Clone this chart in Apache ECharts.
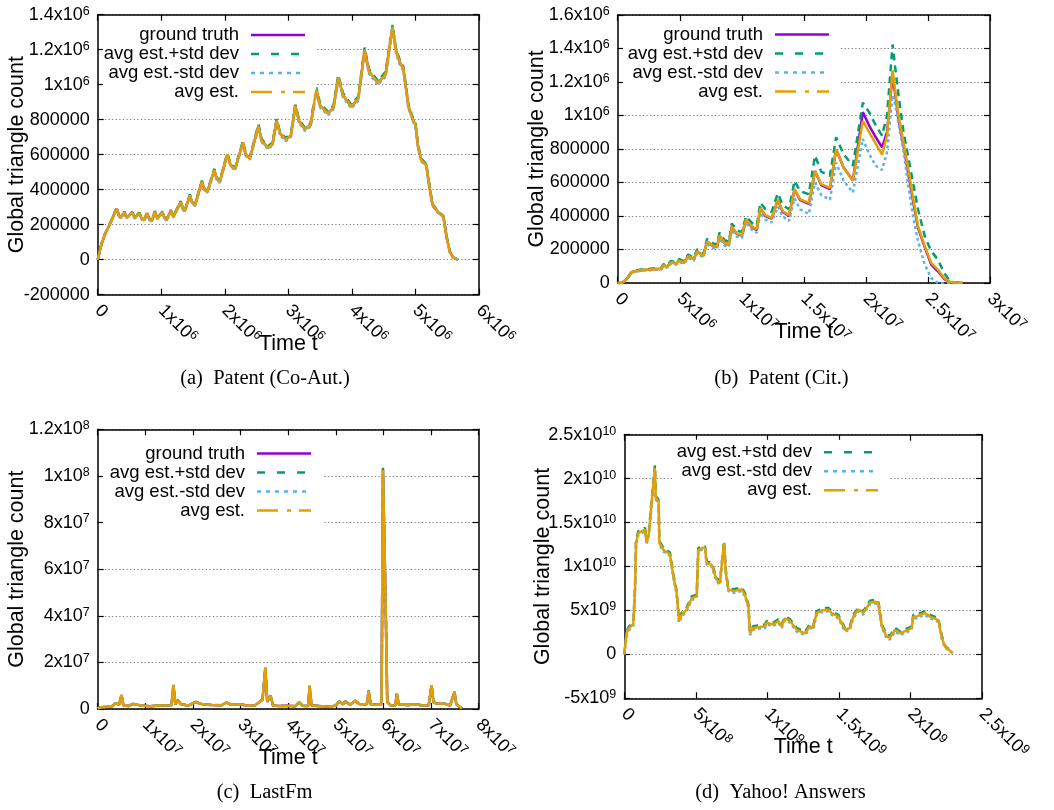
<!DOCTYPE html>
<html>
<head>
<meta charset="utf-8">
<script src="https://cdn.jsdelivr.net/npm/echarts@6/dist/echarts.min.js"></script>
<style>
html, body { margin: 0; padding: 0; background: #fff; }
#chart { width: 1054px; height: 810px; }
</style>
</head>
<body>
<div id="chart"></div>
<script>
// legend / series names
const seriesNames = ['ground truth', 'avg est.+std dev', 'avg est.-std dev', 'avg est.'];

// (a) Patent (Co-Aut.)
const coautTime = [0, 0.06e6, 0.12e6, 0.2e6, 0.27e6, 0.3e6, 0.33e6, 0.36e6, 0.42e6, 0.45e6, 0.48e6, 0.545e6, 0.58e6, 0.61e6, 0.655e6, 0.69e6, 0.73e6, 0.78e6, 0.81e6, 0.85e6, 0.9e6, 0.94e6, 0.97e6, 1.02e6, 1.05e6, 1.085e6, 1.15e6, 1.19e6, 1.215e6, 1.305e6, 1.34e6, 1.37e6, 1.45e6, 1.49e6, 1.53e6, 1.64e6, 1.68e6, 1.725e6, 1.835e6, 1.87e6, 1.92e6, 2.04e6, 2.09e6, 2.16e6, 2.285e6, 2.33e6, 2.395e6, 2.53e6, 2.58e6, 2.68e6, 2.75e6, 2.815e6, 2.87e6, 2.96e6, 3.04e6, 3.11e6, 3.17e6, 3.26e6, 3.35e6, 3.44e6, 3.5e6, 3.625e6, 3.71e6, 3.785e6, 3.86e6, 3.99e6, 4.1e6, 4.2e6, 4.27e6, 4.41e6, 4.53e6, 4.64e6, 4.69e6, 4.75e6, 4.81e6, 4.89e6, 4.96e6, 5e6, 5.04e6, 5.09e6, 5.17e6, 5.22e6, 5.27e6, 5.35e6, 5.44e6, 5.49e6, 5.54e6, 5.59e6, 5.67e6];
const coautTruth = [0, 90e3, 150e3, 210e3, 270e3, 293e3, 255e3, 240e3, 272e3, 240e3, 232e3, 269e3, 238e3, 230e3, 266e3, 235e3, 226e3, 266e3, 232e3, 220e3, 274e3, 235e3, 225e3, 272e3, 238e3, 228e3, 280e3, 245e3, 240e3, 330e3, 290e3, 278e3, 368e3, 325e3, 310e3, 446e3, 400e3, 388e3, 512e3, 465e3, 445e3, 602e3, 540e3, 518e3, 669e3, 600e3, 580e3, 764e3, 680e3, 640e3, 660e3, 794e3, 720e3, 686e3, 710e3, 878e3, 790e3, 745e3, 770e3, 973e3, 880e3, 836e3, 870e3, 1042e3, 940e3, 875e3, 920e3, 1198e3, 1075e3, 1010e3, 1060e3, 1328e3, 1200e3, 1130e3, 1090e3, 875e3, 800e3, 770e3, 650e3, 570e3, 541e3, 417e3, 312e3, 274e3, 246e3, 131e3, 46e3, 13e3, 0];
const coautPlus = [0, 92e3, 153e3, 213e3, 274e3, 298e3, 259e3, 244e3, 276e3, 244e3, 236e3, 273e3, 242e3, 234e3, 270e3, 239e3, 230e3, 270e3, 236e3, 224e3, 278e3, 239e3, 229e3, 276e3, 242e3, 232e3, 284e3, 249e3, 244e3, 335e3, 294e3, 282e3, 373e3, 330e3, 314e3, 452e3, 405e3, 393e3, 519e3, 471e3, 451e3, 610e3, 547e3, 525e3, 678e3, 608e3, 588e3, 774e3, 689e3, 648e3, 668e3, 804e3, 729e3, 695e3, 719e3, 889e3, 800e3, 754e3, 780e3, 985e3, 891e3, 846e3, 881e3, 1055e3, 952e3, 886e3, 932e3, 1212e3, 1088e3, 1022e3, 1073e3, 1342e3, 1214e3, 1144e3, 1102e3, 886e3, 810e3, 780e3, 659e3, 578e3, 548e3, 423e3, 317e3, 278e3, 250e3, 133e3, 47e3, 13e3, 0];
const coautMinus = [0, 88e3, 147e3, 207e3, 266e3, 288e3, 251e3, 236e3, 268e3, 236e3, 228e3, 265e3, 234e3, 226e3, 262e3, 231e3, 222e3, 262e3, 228e3, 216e3, 270e3, 231e3, 221e3, 268e3, 234e3, 224e3, 276e3, 241e3, 236e3, 325e3, 286e3, 274e3, 363e3, 320e3, 306e3, 440e3, 395e3, 383e3, 505e3, 459e3, 439e3, 594e3, 533e3, 511e3, 660e3, 592e3, 572e3, 754e3, 671e3, 632e3, 652e3, 784e3, 711e3, 677e3, 701e3, 867e3, 780e3, 736e3, 760e3, 961e3, 869e3, 826e3, 859e3, 1029e3, 928e3, 864e3, 908e3, 1184e3, 1062e3, 998e3, 1047e3, 1314e3, 1186e3, 1116e3, 1078e3, 864e3, 790e3, 760e3, 641e3, 562e3, 534e3, 411e3, 307e3, 270e3, 242e3, 129e3, 45e3, 13e3, 0];
const coautAvg = [0, 90e3, 150e3, 210e3, 270e3, 293e3, 255e3, 240e3, 272e3, 240e3, 232e3, 269e3, 238e3, 230e3, 266e3, 235e3, 226e3, 266e3, 232e3, 220e3, 274e3, 235e3, 225e3, 272e3, 238e3, 228e3, 280e3, 245e3, 240e3, 330e3, 290e3, 278e3, 368e3, 325e3, 310e3, 446e3, 400e3, 388e3, 512e3, 465e3, 445e3, 602e3, 540e3, 518e3, 669e3, 600e3, 580e3, 764e3, 680e3, 640e3, 660e3, 794e3, 720e3, 686e3, 710e3, 878e3, 790e3, 745e3, 770e3, 973e3, 880e3, 836e3, 870e3, 1042e3, 940e3, 875e3, 920e3, 1198e3, 1075e3, 1010e3, 1060e3, 1328e3, 1200e3, 1130e3, 1090e3, 875e3, 800e3, 770e3, 650e3, 570e3, 541e3, 417e3, 312e3, 274e3, 246e3, 131e3, 46e3, 13e3, 0];
const coautXLabels = ['0', '1x10^6', '2x10^6', '3x10^6', '4x10^6', '5x10^6', '6x10^6'];
const coautYLabels = ['-200000', '0', '200000', '400000', '600000', '800000', '1x10^6', '1.2x10^6', '1.4x10^6'];

// (b) Patent (Cit.)
const citTime = [0, 0.4e6, 0.75e6, 1.15e6, 1.5e6, 2.05e6, 2.6e6, 3.1e6, 3.5e6, 3.68e6, 4e6, 4.3e6, 4.7e6, 4.95e6, 5.34e6, 5.68e6, 6.13e6, 6.4e6, 6.9e6, 7.2e6, 7.7e6, 8e6, 8.2e6, 8.6e6, 8.95e6, 9.2e6, 9.6e6, 10e6, 10.35e6, 10.8e6, 11.2e6, 11.5e6, 11.9e6, 12.4e6, 12.9e6, 13.3e6, 13.8e6, 14.25e6, 14.7e6, 15.4e6, 15.9e6, 16.4e6, 17.1e6, 17.6e6, 18.2e6, 18.95e6, 19.75e6, 20.26e6, 20.8e6, 21.3e6, 21.7e6, 22.15e6, 22.37e6, 22.63e6, 23.03e6, 23.42e6, 23.82e6, 24.2e6, 24.74e6, 25.26e6, 25.8e6, 26.3e6, 26.84e6, 27.8e6];
const citTruth = [0, 2e3, 26e3, 66e3, 72e3, 78e3, 80e3, 84e3, 84e3, 106e3, 98e3, 124e3, 116e3, 134e3, 122e3, 160e3, 142e3, 190e3, 162e3, 248e3, 220e3, 214e3, 284e3, 238e3, 228e3, 336e3, 292e3, 283e3, 380e3, 334e3, 316e3, 448e3, 400e3, 384e3, 495e3, 426e3, 400e3, 560e3, 495e3, 472e3, 668e3, 585e3, 560e3, 798e3, 690e3, 612e3, 1020e3, 940e3, 870e3, 810e3, 900e3, 1240e3, 1120e3, 980e3, 820e3, 650e3, 480e3, 330e3, 215e3, 110e3, 70e3, 25e3, 3e3, 0];
const citPlus = [0, 2e3, 28e3, 70e3, 76e3, 82e3, 85e3, 89e3, 89e3, 112e3, 104e3, 132e3, 123e3, 142e3, 130e3, 170e3, 151e3, 202e3, 172e3, 264e3, 236e3, 230e3, 302e3, 256e3, 246e3, 356e3, 314e3, 304e3, 398e3, 360e3, 342e3, 480e3, 440e3, 425e3, 535e3, 465e3, 440e3, 610e3, 548e3, 530e3, 760e3, 665e3, 640e3, 870e3, 770e3, 700e3, 1076e3, 1020e3, 940e3, 880e3, 1000e3, 1424e3, 1280e3, 1120e3, 900e3, 750e3, 590e3, 440e3, 280e3, 190e3, 140e3, 60e3, 6e3, 0];
const citMinus = [0, 2e3, 24e3, 62e3, 68e3, 74e3, 76e3, 79e3, 79e3, 100e3, 92e3, 116e3, 109e3, 126e3, 114e3, 150e3, 133e3, 178e3, 152e3, 232e3, 208e3, 202e3, 266e3, 224e3, 214e3, 316e3, 276e3, 268e3, 362e3, 318e3, 300e3, 420e3, 378e3, 362e3, 455e3, 398e3, 370e3, 505e3, 440e3, 412e3, 600e3, 525e3, 498e3, 718e3, 610e3, 540e3, 860e3, 770e3, 700e3, 675e3, 780e3, 1120e3, 1060e3, 950e3, 790e3, 580e3, 390e3, 250e3, 110e3, 30e3, 0, 0, 0, 0];
const citAvg = [0, 2e3, 26e3, 66e3, 72e3, 78e3, 80e3, 84e3, 84e3, 106e3, 98e3, 124e3, 116e3, 134e3, 122e3, 160e3, 142e3, 190e3, 162e3, 248e3, 222e3, 216e3, 284e3, 240e3, 230e3, 336e3, 295e3, 286e3, 380e3, 338e3, 320e3, 448e3, 405e3, 388e3, 495e3, 430e3, 405e3, 560e3, 500e3, 478e3, 668e3, 590e3, 568e3, 798e3, 690e3, 610e3, 968e3, 900e3, 830e3, 766e3, 880e3, 1270e3, 1140e3, 1000e3, 840e3, 680e3, 500e3, 340e3, 220e3, 120e3, 80e3, 30e3, 4e3, 0];
const citXLabels = ['0', '5x10^6', '1x10^7', '1.5x10^7', '2x10^7', '2.5x10^7', '3x10^7'];
const citYLabels = ['0', '200000', '400000', '600000', '800000', '1x10^6', '1.2x10^6', '1.4x10^6', '1.6x10^6'];

// (c) LastFm
const lastfmTime = [0, 1e6, 2e6, 3e6, 3.8e6, 4.5e6, 5e6, 5.4e6, 6.5e6, 7.5e6, 9e6, 11e6, 13e6, 15.5e6, 15.9e6, 16.3e6, 16.8e6, 17.5e6, 19e6, 20.5e6, 22e6, 24e6, 26e6, 27e6, 28e6, 30e6, 31e6, 33e6, 34.6e6, 35.2e6, 35.6e6, 36.3e6, 36.8e6, 38e6, 40e6, 41.5e6, 42.3e6, 43e6, 44.2e6, 44.5e6, 44.9e6, 47e6, 49e6, 50e6, 50.7e6, 51.5e6, 52e6, 53e6, 54e6, 55e6, 56.5e6, 56.9e6, 57.3e6, 59e6, 59.6e6, 59.9e6, 60.2e6, 60.5e6, 60.8e6, 61.5e6, 62.5e6, 62.8e6, 63.2e6, 65e6, 67e6, 68e6, 69.5e6, 70.1e6, 70.5e6, 71e6, 73e6, 74e6, 74.9e6, 75.3e6, 76e6, 76.5e6];
const lastfmTruth = [0.3e6, 0.8e6, 1e6, 1.2e6, 2.5e6, 1.8e6, 6e6, 1.5e6, 1.3e6, 2.2e6, 1.5e6, 1.2e6, 1.5e6, 1.6e6, 10.2e6, 2e6, 3.8e6, 2e6, 1.5e6, 3e6, 2e6, 1.7e6, 1.6e6, 2.8e6, 1.8e6, 2e6, 1.6e6, 1.5e6, 4e6, 17.7e6, 3e6, 5.8e6, 1.5e6, 1.3e6, 1.4e6, 1.2e6, 3e6, 1.4e6, 1.3e6, 9.8e6, 1.5e6, 1.2e6, 1.1e6, 1.5e6, 3.2e6, 2e6, 3.2e6, 1.8e6, 3.5e6, 2e6, 2e6, 7.8e6, 2e6, 1.8e6, 2.2e6, 102.5e6, 102.5e6, 40e6, 3e6, 1.6e6, 1.5e6, 6.5e6, 2e6, 1.7e6, 1.9e6, 1.6e6, 1.5e6, 10.2e6, 3e6, 2.4e6, 2.2e6, 1.5e6, 7.4e6, 2e6, 1e6, 0.3e6];
const lastfmPlus = [0.3e6, 0.8e6, 1e6, 1.2e6, 2.6e6, 1.8e6, 6.1e6, 1.5e6, 1.3e6, 2.2e6, 1.5e6, 1.2e6, 1.5e6, 1.6e6, 10.4e6, 2e6, 3.9e6, 2e6, 1.5e6, 3.1e6, 2e6, 1.7e6, 1.6e6, 2.9e6, 1.8e6, 2e6, 1.6e6, 1.5e6, 4.1e6, 18e6, 3e6, 5.9e6, 1.5e6, 1.3e6, 1.4e6, 1.2e6, 3.1e6, 1.4e6, 1.3e6, 10e6, 1.5e6, 1.2e6, 1.1e6, 1.5e6, 3.3e6, 2e6, 3.3e6, 1.8e6, 3.6e6, 2e6, 2e6, 8e6, 2e6, 1.8e6, 2.2e6, 103.5e6, 103.5e6, 41e6, 3e6, 1.6e6, 1.5e6, 6.6e6, 2e6, 1.7e6, 1.9e6, 1.6e6, 1.5e6, 10.4e6, 3e6, 2.4e6, 2.2e6, 1.5e6, 7.5e6, 2e6, 1e6, 0.3e6];
const lastfmMinus = [0.3e6, 0.8e6, 1e6, 1.2e6, 2.4e6, 1.8e6, 5.9e6, 1.5e6, 1.3e6, 2.2e6, 1.5e6, 1.2e6, 1.5e6, 1.6e6, 10e6, 2e6, 3.7e6, 2e6, 1.5e6, 2.9e6, 2e6, 1.7e6, 1.6e6, 2.7e6, 1.8e6, 2e6, 1.6e6, 1.5e6, 3.9e6, 17.4e6, 3e6, 5.7e6, 1.5e6, 1.3e6, 1.4e6, 1.2e6, 2.9e6, 1.4e6, 1.3e6, 9.6e6, 1.5e6, 1.2e6, 1.1e6, 1.5e6, 3.1e6, 2e6, 3.1e6, 1.8e6, 3.4e6, 2e6, 2e6, 7.6e6, 2e6, 1.8e6, 2.2e6, 101.5e6, 101.5e6, 39e6, 3e6, 1.6e6, 1.5e6, 6.4e6, 2e6, 1.7e6, 1.9e6, 1.6e6, 1.5e6, 10e6, 3e6, 2.4e6, 2.2e6, 1.5e6, 7.3e6, 2e6, 1e6, 0.3e6];
const lastfmAvg = [0.3e6, 0.8e6, 1e6, 1.2e6, 2.5e6, 1.8e6, 6e6, 1.5e6, 1.3e6, 2.2e6, 1.5e6, 1.2e6, 1.5e6, 1.6e6, 10.2e6, 2e6, 3.8e6, 2e6, 1.5e6, 3e6, 2e6, 1.7e6, 1.6e6, 2.8e6, 1.8e6, 2e6, 1.6e6, 1.5e6, 4e6, 17.7e6, 3e6, 5.8e6, 1.5e6, 1.3e6, 1.4e6, 1.2e6, 3e6, 1.4e6, 1.3e6, 9.8e6, 1.5e6, 1.2e6, 1.1e6, 1.5e6, 3.2e6, 2e6, 3.2e6, 1.8e6, 3.5e6, 2e6, 2e6, 7.8e6, 2e6, 1.8e6, 2.2e6, 102.5e6, 102.5e6, 40e6, 3e6, 1.6e6, 1.5e6, 6.5e6, 2e6, 1.7e6, 1.9e6, 1.6e6, 1.5e6, 10.2e6, 3e6, 2.4e6, 2.2e6, 1.5e6, 7.4e6, 2e6, 1e6, 0.3e6];
const lastfmXLabels = ['0', '1x10^7', '2x10^7', '3x10^7', '4x10^7', '5x10^7', '6x10^7', '7x10^7', '8x10^7'];
const lastfmYLabels = ['0', '2x10^7', '4x10^7', '6x10^7', '8x10^7', '1x10^8', '1.2x10^8'];

// (d) Yahoo! Answers (no ground truth)
const yahooTime = [0, 0.016e9, 0.03e9, 0.063e9, 0.075e9, 0.082e9, 0.098e9, 0.12e9, 0.145e9, 0.156e9, 0.172e9, 0.191e9, 0.214e9, 0.22e9, 0.226e9, 0.24e9, 0.245e9, 0.273e9, 0.319e9, 0.343e9, 0.366e9, 0.382e9, 0.4e9, 0.436e9, 0.471e9, 0.506e9, 0.517e9, 0.54e9, 0.564e9, 0.576e9, 0.61e9, 0.645e9, 0.669e9, 0.68e9, 0.697e9, 0.71e9, 0.727e9, 0.762e9, 0.82e9, 0.843e9, 0.867e9, 0.878e9, 0.9e9, 0.983e9, 0.995e9, 1.04e9, 1.076e9, 1.1e9, 1.123e9, 1.158e9, 1.205e9, 1.263e9, 1.298e9, 1.32e9, 1.344e9, 1.38e9, 1.426e9, 1.45e9, 1.496e9, 1.542e9, 1.577e9, 1.6e9, 1.636e9, 1.67e9, 1.717e9, 1.752e9, 1.775e9, 1.8e9, 1.834e9, 1.857e9, 1.892e9, 1.927e9, 1.985e9, 2.008e9, 2.02e9, 2.043e9, 2.067e9, 2.1e9, 2.137e9, 2.195e9, 2.218e9, 2.24e9, 2.295e9];
const yahooPlus = [0, 2.6e9, 3.1e9, 3.7e9, 7.7e9, 13e9, 14e9, 14.2e9, 14.4e9, 12.9e9, 14e9, 17.6e9, 21.5e9, 18e9, 17.8e9, 17.6e9, 12.9e9, 12.1e9, 11.6e9, 9.1e9, 7.2e9, 4e9, 4.7e9, 5.3e9, 6.6e9, 6.8e9, 12.1e9, 12.3e9, 12.3e9, 10.6e9, 10.4e9, 8.7e9, 8.3e9, 10.2e9, 12.9e9, 9.5e9, 7.6e9, 7.4e9, 7.6e9, 7e9, 5.7e9, 2.6e9, 3.2e9, 3.4e9, 3.8e9, 3.6e9, 4e9, 3.4e9, 4.3e9, 4e9, 3e9, 2.6e9, 3.4e9, 3.2e9, 4.9e9, 5.2e9, 5.3e9, 4.9e9, 4.5e9, 3e9, 3.2e9, 4.5e9, 5.3e9, 4.9e9, 6.1e9, 6.2e9, 6.1e9, 3.4e9, 2.2e9, 2.1e9, 3e9, 2.6e9, 3e9, 3.2e9, 4.5e9, 4.5e9, 4.7e9, 4.9e9, 4.5e9, 4.1e9, 2.2e9, 1e9, 0.2e9];
const yahooMinus = [0, 2.2e9, 2.7e9, 3.3e9, 7.1e9, 12.4e9, 13.6e9, 13.8e9, 14e9, 12.5e9, 13.6e9, 17e9, 20.9e9, 17.6e9, 17.4e9, 17.2e9, 12.5e9, 11.7e9, 11.2e9, 8.7e9, 6.8e9, 3.6e9, 4.3e9, 4.9e9, 6.2e9, 6.4e9, 11.7e9, 11.9e9, 11.9e9, 10.2e9, 10e9, 8.3e9, 7.9e9, 9.8e9, 12.5e9, 9.1e9, 7.2e9, 7e9, 7.2e9, 6.6e9, 5.3e9, 2.2e9, 2.8e9, 3e9, 3.4e9, 3.2e9, 3.6e9, 3e9, 3.9e9, 3.6e9, 2.6e9, 2.2e9, 3e9, 2.8e9, 4.5e9, 4.8e9, 4.9e9, 4.5e9, 4.1e9, 2.6e9, 2.8e9, 4.1e9, 4.9e9, 4.5e9, 5.7e9, 5.8e9, 5.7e9, 3e9, 1.8e9, 1.7e9, 2.6e9, 2.2e9, 2.6e9, 2.8e9, 4.1e9, 4.1e9, 4.3e9, 4.5e9, 4.1e9, 3.7e9, 1.8e9, 0.8e9, 0.1e9];
const yahooAvg = [0, 2.4e9, 2.9e9, 3.5e9, 7.4e9, 12.7e9, 13.8e9, 14e9, 14.2e9, 12.7e9, 13.8e9, 17.3e9, 21.2e9, 17.8e9, 17.6e9, 17.4e9, 12.7e9, 11.9e9, 11.4e9, 8.9e9, 7e9, 3.8e9, 4.5e9, 5.1e9, 6.4e9, 6.6e9, 11.9e9, 12.1e9, 12.1e9, 10.4e9, 10.2e9, 8.5e9, 8.1e9, 10e9, 12.7e9, 9.3e9, 7.4e9, 7.2e9, 7.4e9, 6.8e9, 5.5e9, 2.4e9, 3e9, 3.2e9, 3.6e9, 3.4e9, 3.8e9, 3.2e9, 4.1e9, 3.8e9, 2.8e9, 2.4e9, 3.2e9, 3e9, 4.7e9, 5e9, 5.1e9, 4.7e9, 4.3e9, 2.8e9, 3e9, 4.3e9, 5.1e9, 4.7e9, 5.9e9, 6e9, 5.9e9, 3.2e9, 2e9, 1.9e9, 2.8e9, 2.4e9, 2.8e9, 3e9, 4.3e9, 4.3e9, 4.5e9, 4.7e9, 4.3e9, 3.9e9, 2e9, 0.9e9, 0.15e9];
const yahooXLabels = ['0', '5x10^8', '1x10^9', '1.5x10^9', '2x10^9', '2.5x10^9'];
const yahooYLabels = ['-5x10^9', '0', '5x10^9', '1x10^10', '1.5x10^10', '2x10^10', '2.5x10^10'];

const FONT = '"Liberation Sans", Arial, Helvetica, sans-serif';
const SERIF = '"Liberation Serif", "DejaVu Serif", serif';

const lineStyles = [
    {color: '#9400D3', dash: 'solid', legendDash: 'solid', z: 2},
    {color: '#009E73', dash: [7, 5], legendDash: [8, 12], z: 3},
    {color: '#56B4E9', dash: [3, 3], legendDash: [4, 5], z: 4},
    {color: '#E69F00', dash: 'solid', legendDash: [21, 9, 4, 8], z: 5}
];

const panels = [
    {
        grid: {left: 97.7, top: 14.7, width: 381.3, height: 280},
        x: [0, 6e6, 1e6], y: [-2e5, 1.4e6, 2e5],
        xLabels: coautXLabels, yLabels: coautYLabels,
        time: coautTime, values: [coautTruth, coautPlus, coautMinus, coautAvg],
        legend: {left: 103, top: 22.5, row: 19, textW: 136},
        caption: {text: '(a)  Patent (Co-Aut.)', x: 265, y: 379}
    },
    {
        grid: {left: 617.7, top: 15, width: 372.3, height: 268},
        x: [0, 3e7, 5e6], y: [0, 1.6e6, 2e5],
        xLabels: citXLabels, yLabels: citYLabels,
        time: citTime, values: [citTruth, citPlus, citMinus, citAvg],
        legend: {left: 623, top: 22, row: 20, textW: 140},
        caption: {text: '(b)  Patent (Cit.)', x: 781.5, y: 379}
    },
    {
        grid: {left: 97.7, top: 429.3, width: 381, height: 279.7},
        x: [0, 8e7, 1e7], y: [0, 1.2e8, 2e7],
        xLabels: lastfmXLabels, yLabels: lastfmYLabels,
        time: lastfmTime, values: [lastfmTruth, lastfmPlus, lastfmMinus, lastfmAvg],
        legend: {left: 103, top: 441, row: 19.5, textW: 142},
        caption: {text: '(c)  LastFm', x: 264.5, y: 793}
    },
    {
        grid: {left: 624.3, top: 434.7, width: 357.7, height: 263.6},
        x: [0, 2.5e9, 5e8], y: [-5e9, 2.5e10, 5e9],
        xLabels: yahooXLabels, yLabels: yahooYLabels,
        time: yahooTime, values: [null, yahooPlus, yahooMinus, yahooAvg],
        legend: {left: 672, top: 439.7, row: 20, textW: 140},
        caption: {text: '(d)  Yahoo! Answers', x: 780.5, y: 793}
    }
];

// tick text -> rich string, "1x10^6" gets a raised exponent
function tickText(s) {
    const m = s.match(/^(.*)\^(\d+)$/);
    return m ? '{n|' + m[1] + '}{sup|' + m[2] + '}' : '{n|' + s + '}';
}

function labelFormatter(labels, min, step) {
    return function (v) {
        const s = labels[Math.round((v - min) / step)];
        return s === undefined ? '' : tickText(s);
    };
}

const tickRich = {
    n: {fontSize: 18, lineHeight: 20, color: '#000', fontFamily: FONT},
    sup: {fontSize: 12.5, lineHeight: 12, verticalAlign: 'top', color: '#000', fontFamily: FONT}
};
const axisLineStyle = {show: true, onZero: false, lineStyle: {color: '#000', width: 1.5}};
const tickStyle = {show: true, inside: true, length: 6, lineStyle: {color: '#000', width: 1.2}};

let grids = [], xAxes = [], yAxes = [], series = [], legends = [], graphics = [];

panels.forEach((p, i) => {
    grids.push(Object.assign({containLabel: false, outerBoundsMode: 'none'}, p.grid));
    const common = {gridIndex: i, type: 'value', axisLine: axisLineStyle, axisTick: tickStyle};
    xAxes.push(Object.assign({}, common, {
        position: 'bottom', min: p.x[0], max: p.x[1], interval: p.x[2],
        splitLine: {show: false},
        axisLabel: {
            rotate: -45, margin: 13, fontSize: 18, color: '#000', fontFamily: FONT,
            formatter: labelFormatter(p.xLabels, p.x[0], p.x[2]), rich: tickRich
        },
        name: 'Time t', nameLocation: 'middle', nameGap: 38, nameMoveOverlap: false,
        nameTextStyle: {fontSize: 21.5, color: '#000', fontFamily: FONT}
    }));
    xAxes.push(Object.assign({}, common, {
        position: 'top', min: p.x[0], max: p.x[1], interval: p.x[2],
        splitLine: {show: false}, axisLabel: {show: false}
    }));
    yAxes.push(Object.assign({}, common, {
        position: 'left', min: p.y[0], max: p.y[1], interval: p.y[2],
        splitLine: {show: true, lineStyle: {color: '#777', width: 1, type: [1.2, 2.4]}},
        axisLabel: {
            margin: 8, fontSize: 18, color: '#000', fontFamily: FONT,
            formatter: labelFormatter(p.yLabels, p.y[0], p.y[2]), rich: tickRich
        },
        name: 'Global triangle count', nameLocation: 'middle', nameGap: 70, nameMoveOverlap: false,
        nameTextStyle: {fontSize: 21.5, color: '#000', fontFamily: FONT}
    }));
    yAxes.push(Object.assign({}, common, {
        position: 'right', min: p.y[0], max: p.y[1], interval: p.y[2],
        splitLine: {show: false}, axisLabel: {show: false}
    }));

    const legendData = [];
    p.values.forEach((vals, k) => {
        if (!vals) return;
        const st = lineStyles[k];
        series.push({
            name: seriesNames[k], type: 'line',
            xAxisIndex: i * 2, yAxisIndex: i * 2,
            data: p.time.map((t, j) => [t, vals[j]]),
            symbol: 'none', showSymbol: false, animation: false, z: st.z,
            lineStyle: {color: st.color, width: 2.5, type: st.dash},
            itemStyle: {color: st.color}
        });
        legendData.push({name: seriesNames[k], lineStyle: {color: st.color, width: 2.5, type: st.legendDash}});
    });

    legends.push({
        orient: 'vertical', left: p.legend.left, top: p.legend.top,
        align: 'right', padding: [3, 10, 3, 0], itemGap: 0,
        itemWidth: 54, itemHeight: p.legend.row,
        backgroundColor: '#fff', selectedMode: false,
        itemStyle: {opacity: 0},
        data: legendData,
        formatter: name => '{r|' + name + '}',
        textStyle: {
            rich: {r: {width: p.legend.textW, align: 'right', padding: [0, 7, 0, 0], fontSize: 18.5,
                lineHeight: p.legend.row, color: '#000', fontFamily: FONT}}
        }
    });

    graphics.push({
        type: 'text', x: p.caption.x, y: p.caption.y,
        style: {text: p.caption.text, fill: '#000', font: '20.5px ' + SERIF, align: 'center', verticalAlign: 'middle'}
    });
});

const chart = echarts.init(document.getElementById('chart'), null, {renderer: 'canvas'});
chart.setOption({
    backgroundColor: '#fff',
    animation: false,
    grid: grids,
    xAxis: xAxes,
    yAxis: yAxes,
    legend: legends,
    series: series,
    graphic: graphics
});
</script>
</body>
</html>
